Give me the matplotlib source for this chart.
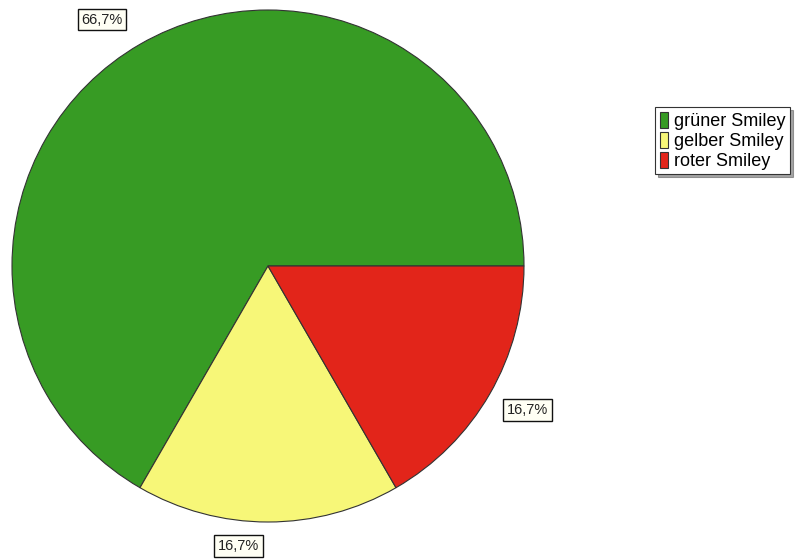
import numpy as np
import matplotlib.pyplot as plt

plt.rcParams["font.family"] = ["Liberation Sans", "DejaVu Sans"]

# Daten
labels = ["grüner Smiley", "gelber Smiley", "roter Smiley"]
anzahl = [4, 1, 1]
farben = ["#379b24", "#f7f778", "#e2251a"]

# Lage der Beschriftungen (Abstand vom Mittelpunkt, Winkelversatz in Grad)
label_radius = [1.16, 1.10, 1.16]
label_versatz = [4, -6, 1]


def fmt(pct):
    return ("%.1f%%" % pct).replace(".", ",")


fig = plt.figure(figsize=(7.95, 5.6), dpi=100)
fig.patch.set_facecolor("white")

ax = fig.add_axes([12 / 795, 38 / 560, 512 / 795, 512 / 560])
wedges, texts, autotexts = ax.pie(
    anzahl,
    colors=farben,
    startangle=0,
    counterclock=True,
    autopct=fmt,
    wedgeprops=dict(edgecolor="#333333", linewidth=0.8),
    textprops=dict(fontsize=10.5, color="#222222"),
)
for w, t, r, d in zip(wedges, autotexts, label_radius, label_versatz):
    winkel = np.deg2rad((w.theta1 + w.theta2) / 2 + d)
    t.set_position((r * np.cos(winkel), r * np.sin(winkel)))
    t.set_bbox(dict(boxstyle="square,pad=0.25", facecolor="#fffff4",
                    edgecolor="#111111", linewidth=1.0))
    t.set_clip_on(False)
ax.set_xlim(-1, 1)
ax.set_ylim(-1, 1)
ax.axis("off")

leg = fig.legend(wedges, labels, loc="upper left",
                 bbox_to_anchor=(655 / 795, 1 - 107 / 560),
                 fontsize=13, frameon=True, shadow=True, fancybox=False,
                 handlelength=0.45, handleheight=1.0, handletextpad=0.35,
                 labelspacing=0.1, borderpad=0.25, borderaxespad=0)
leg.get_frame().set_edgecolor("#333333")
leg.get_frame().set_linewidth(0.8)

fig.savefig("out.png", dpi=100)
